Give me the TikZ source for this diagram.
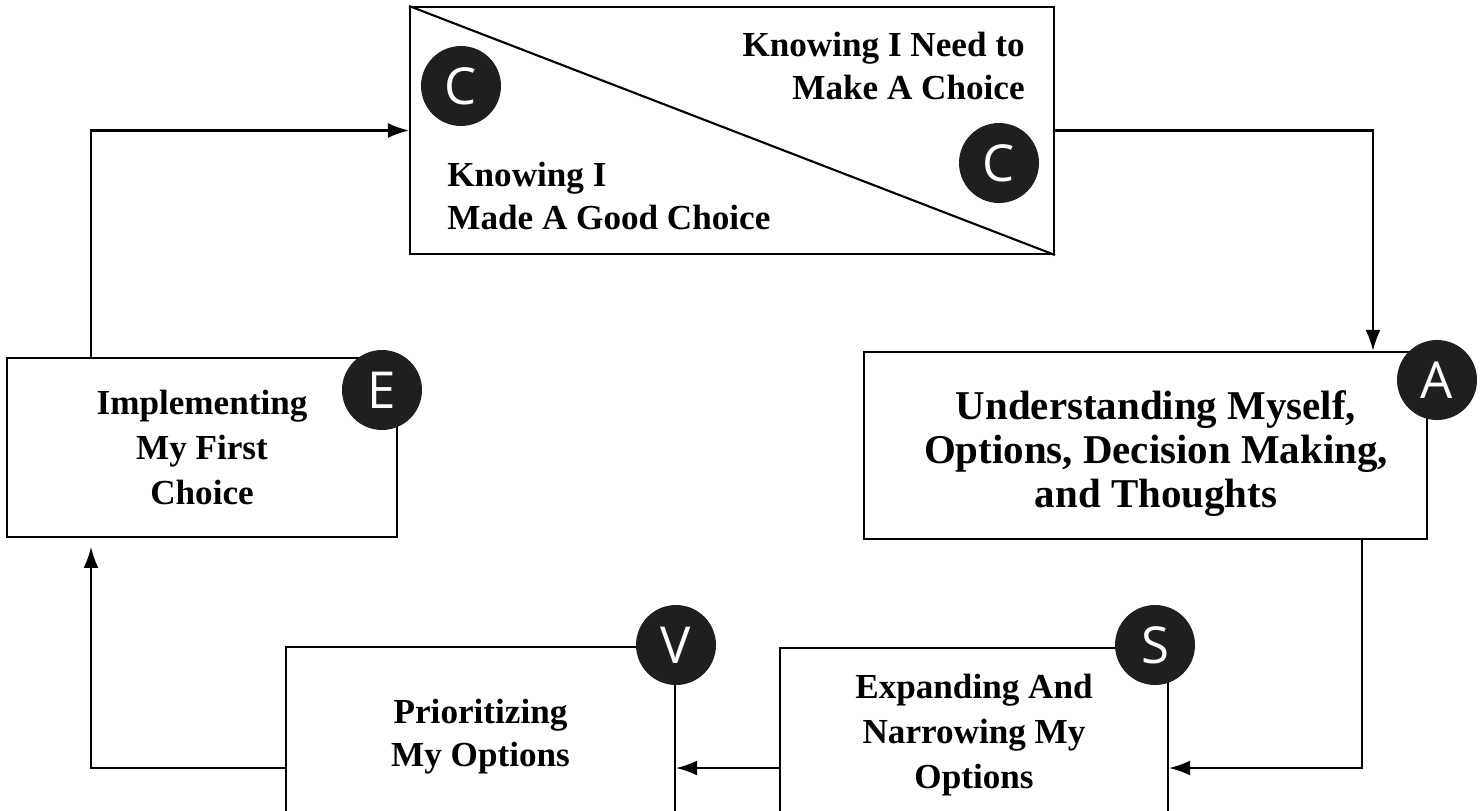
\documentclass[tikz,border=0pt]{standalone}
\usepackage{fontspec}
\setmainfont{Liberation Serif}
\newfontfamily\badgefont{Open Sans}
\usetikzlibrary{arrows.meta}

\tikzset{
  stage/.style={draw, line width=1.2pt, align=center, inner sep=0pt,
    font=\bfseries\fontsize{20}{25.8}\selectfont},
  cycletext/.style={inner sep=0pt, font=\bfseries\fontsize{20}{25.8}\selectfont},
  badge/.style={circle, fill=black!88, text=white, minimum size=1.6cm, inner sep=0pt,
    font=\badgefont\fontsize{29}{30}\selectfont},
  flow/.style={line width=1.2pt, -{Latex[length=12pt,width=8.5pt]}}
}

\begin{document}
\begin{tikzpicture}[x=0.02cm,y=-0.02cm]
\useasboundingbox (0,0) rectangle (1484,811);
\clip (0,0) rectangle (1484,811);

% the five stages
\node[stage, minimum width=12.88cm, minimum height=4.94cm] (know) at (732,130.5) {};
\node[stage, minimum width=11.26cm, minimum height=3.74cm] (understand) at (1145.5,445.5) {};
\node[stage, minimum width=7.76cm, minimum height=4.64cm] (expand) at (974,764) {};
\node[stage, minimum width=7.78cm, minimum height=4.66cm] (prior) at (480.5,763.5) {};
\node[stage, minimum width=7.8cm, minimum height=3.58cm] (implement) at (202,447.5)
      {Implementing\\My First\\Choice};

\draw[line width=1.2pt] (know.north west) -- (know.south east);
\node[cycletext, anchor=east, align=right, font=\bfseries\fontsize{20}{24.5}\selectfont]
      (needtxt) at (1025,66) {Knowing I Need to\\Make A Choice};
\node[cycletext, anchor=west, align=left, font=\bfseries\fontsize{20}{24.5}\selectfont]
      (madetxt) at (447,196) {Knowing I\\Made A Good Choice};
\node[cycletext, align=center, font=\bfseries\fontsize{23.3}{25}\selectfont]
      (understandtxt) at (1156,454) {Understanding Myself,\\Options, Decision Making,\\and Thoughts};
\node[cycletext, align=center] (expandtxt) at (974,735) {Expanding And\\Narrowing My\\Options};
\node[cycletext, align=center, font=\bfseries\fontsize{20}{24.5}\selectfont]
      (priortxt) at (480.5,737) {Prioritizing\\My Options};

% connectors
\coordinate (leftx) at (91,0);
\coordinate (rightx) at (1373,0);
\coordinate (downx) at (1362,768);

\draw[flow] (implement.north -| leftx) |- (know.west);
\draw[flow] (know.east) -| (understand.north -| rightx);
\draw[flow] (understand.south -| downx) |- (expand.east |- downx);
\draw[flow] (expand.west |- downx) -- (prior.east |- downx);
\draw[flow, shorten >=5pt] (prior.west |- downx) -| (implement.south -| leftx);

% letters
\node[badge] (c1) at (461,86) {C};
\node[badge] (c2) at (999,163) {C};
\node[badge] (a) at (1437,380) {A};
\node[badge] (s) at (1155,645) {S};
\node[badge] (v) at (676,645) {V};
\node[badge] (e) at (382,390) {E};
\end{tikzpicture}
\end{document}
